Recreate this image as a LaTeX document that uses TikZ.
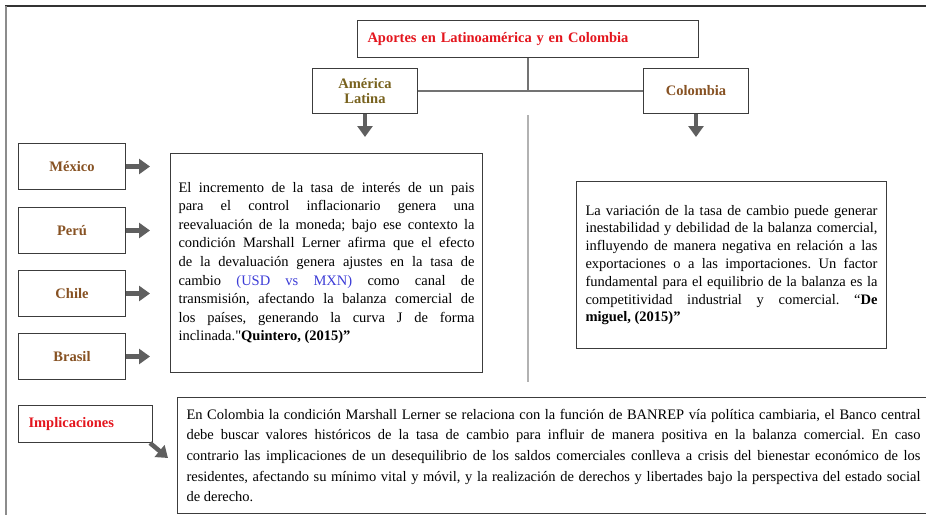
\documentclass[tikz,border=0pt]{standalone}
\usepackage{fontspec}
\setmainfont{Liberation Serif}
\usetikzlibrary{arrows.meta}
\definecolor{titlered}{RGB}{228,22,30}
\definecolor{olivetxt}{RGB}{120,98,30}
\definecolor{browntxt}{RGB}{135,82,35}
\definecolor{boxline}{RGB}{60,60,60}
\definecolor{conn}{RGB}{115,115,115}
\definecolor{arrowgray}{RGB}{95,95,95}
\definecolor{bluetxt}{RGB}{60,60,215}
\frenchspacing
\begin{document}
\begin{tikzpicture}[x=1pt,y=-1pt,
 box/.style={draw=boxline, line width=1pt, fill=white, inner sep=0pt},
 catbox/.style={box, minimum width=107, minimum height=46, font=\bfseries\fontsize{14.5}{16}\selectfont, text=browntxt, align=center},
 blockarrow/.style={draw=arrowgray, line width=4.5pt, -{Triangle[width=15pt,length=11pt]}},
 link/.style={draw=conn, line width=1.4pt},
 para/.style={box, align=justify}
]
\useasboundingbox (0,0) rectangle (926,515);
% outer frame
\coordinate (fr0) at (5,6);
\coordinate (fr1) at (926,6);
\coordinate (fr2) at (6,6);
\coordinate (fr3) at (6,515);
\draw[line width=2pt, draw=black!80] (fr0) -- (fr1);
\draw[line width=2pt, draw=black!45] (fr2) -- (fr3);

% title
\node[box, anchor=north west, minimum width=341, minimum height=37, inner xsep=10pt, text width=321, align=left,
      font=\bfseries\fontsize{14.5}{16}\selectfont, text=titlered] (title) at (357,20)
      {Aportes en Latinoamérica y en Colombia};

% headings
\node[catbox, text=olivetxt, anchor=north west, minimum width=105, minimum height=45] (amer) at (312,68) {América\\[-1pt]Latina};
\node[catbox, anchor=north west, minimum width=105, minimum height=45] (col) at (643,68) {Colombia};

\draw[link] (amer.east) -- (col.west);
\draw[link] (title.south) -- (title.south |- amer.east);

\draw[blockarrow] (amer.south) -- ++(0,23);
\draw[blockarrow] (col.south) -- ++(0,23);

% central divider
\coordinate (vtop) at (528,115);
\coordinate (vbot) at (528,382);
\draw[draw=black!30, line width=1.6pt] (vtop) -- (vbot);

% countries
\node[catbox, anchor=north west] (mex) at (18,143) {México};
\node[catbox, anchor=north west] (per) at (18,207) {Perú};
\node[catbox, anchor=north west] (chi) at (18,270) {Chile};
\node[catbox, anchor=north west] (bra) at (18,333) {Brasil};
\foreach \n in {mex,per,chi,bra}{
  \draw[blockarrow] (\n.east) -- ++(24,0);
}

% left paragraph
\node[para, anchor=north west, minimum width=312, minimum height=219, text width=296,
      font=\fontsize{14.5}{18.6}\selectfont] (ltext) at (170,153)
{El incremento de la tasa de interés de un pais\linebreak
para el control inflacionario genera una\linebreak
reevaluación de la moneda; bajo ese contexto la\linebreak
condición Marshall Lerner afirma que el efecto\linebreak
de la devaluación genera ajustes en la tasa de\linebreak
cambio {\color{bluetxt}(USD vs MXN)} como canal de\linebreak
transmisión, afectando la balanza comercial de\linebreak
los países, generando la curva J de forma\linebreak
inclinada.\textquotedbl\textbf{Quintero, (2015)”}};

% right paragraph
\node[para, anchor=north west, minimum width=310, minimum height=167, text width=292,
      font=\fontsize{14.5}{17.8}\selectfont] (rtext) at (576,181)
{La variación de la tasa de cambio puede generar\linebreak
inestabilidad y debilidad de la balanza comercial,\linebreak
influyendo de manera negativa en relación a las\linebreak
exportaciones o a las importaciones. Un factor\linebreak
fundamental para el equilibrio de la balanza es la\linebreak
competitividad industrial y comercial. “\textbf{De}\linebreak
\textbf{miguel, (2015)”}};

% implicaciones
\node[box, anchor=north west, minimum width=134, minimum height=37, inner xsep=10pt, text width=114, align=left,
      font=\bfseries\fontsize{14.5}{16}\selectfont, text=titlered] (impl) at (18,405) {Implicaciones};
\draw[blockarrow] ([xshift=-3pt]impl.south east) -- ++(18,15);

% bottom paragraph
\node[para, anchor=north west, minimum width=752, minimum height=116, text width=734,
      font=\fontsize{14.5}{20.6}\selectfont] (btext) at (177,397)
{En Colombia la condición Marshall Lerner se relaciona con la función de BANREP vía política cambiaria, el Banco central\linebreak
debe buscar valores históricos de la tasa de cambio para influir de manera positiva en la balanza comercial. En caso\linebreak
contrario las implicaciones de un desequilibrio de los saldos comerciales conlleva a crisis del bienestar económico de los\linebreak
residentes, afectando su mínimo vital y móvil, y la realización de derechos y libertades bajo la perspectiva del estado social\linebreak
de derecho.};
\end{tikzpicture}
\end{document}
